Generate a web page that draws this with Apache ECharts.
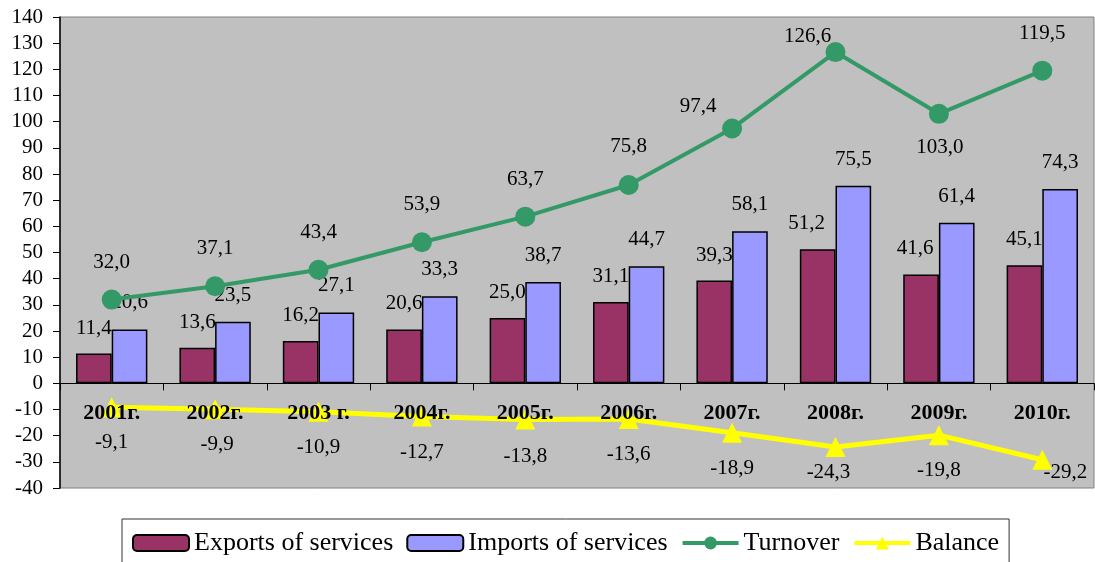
<!DOCTYPE html>
<html>
<head>
<meta charset="utf-8">
<script src="https://cdn.jsdelivr.net/npm/echarts@6/dist/echarts.min.js"></script>
<style>
html, body { margin: 0; padding: 0; background: #fff; }
#chart { width: 1095px; height: 562px; }
</style>
</head>
<body>
<div id="chart"></div>
<script>
var years = ['2001г.', '2002г.', '2003 г.', '2004г.', '2005г.', '2006г.', '2007г.', '2008г.', '2009г.', '2010г.'];
var exportsData = [11.4, 13.6, 16.2, 20.6, 25.0, 31.1, 39.3, 51.2, 41.6, 45.1];
var importsData = [20.6, 23.5, 27.1, 33.3, 38.7, 44.7, 58.1, 75.5, 61.4, 74.3];
var turnoverData = [32.0, 37.1, 43.4, 53.9, 63.7, 75.8, 97.4, 126.6, 103.0, 119.5];
var balanceData = [-9.1, -9.9, -10.9, -12.7, -13.8, -13.6, -18.9, -24.3, -19.8, -29.2];

// label nudges, as placed in the original
var exportsShift = [[0,0],[0,0],[0,0],[0,0],[0,0],[0,0],[0,0],[-11,0],[-6,0],[0,0]];
var turnoverShift = [[0,0],[0,0],[0,0],[0,0],[0,0],[0,-1],[-34,16],[-28,22],[1,71],[0,0]];
var balanceShift = [[0,0],[2,0],[0,0],[0,0],[0,2],[0,0],[0,0],[-7,-10],[0,0],[23,-23]];

var font = 'Liberation Serif';

function fmt(p) {
	return p.value.toFixed(1).replace('.', ',');
}

function withShift(values, shifts) {
	return values.map(function (v, i) {
		return { value: v, label: { offset: shifts[i] } };
	});
}

var valueLabel = {
	show: true,
	color: '#000',
	fontFamily: font,
	fontSize: 21,
	formatter: fmt
};

var option = {
	animation: false,
	textStyle: { fontFamily: font, color: '#000' },
	grid: {
		left: 60, right: 1, top: 17, bottom: 74,
		show: true,
		backgroundColor: '#c0c0c0',
		borderColor: '#808080',
		borderWidth: 1
	},
	legend: {
		left: 122,
		top: 519,
		padding: [11, 10, 30, 10],
		borderColor: '#333',
		borderWidth: 1,
		itemWidth: 56,
		itemHeight: 16,
		itemGap: 13,
		lineStyle: { width: 4 },
		textStyle: { fontFamily: font, fontSize: 26, color: '#000' },
		data: ['Exports of services', 'Imports of services', 'Turnover', 'Balance']
	},
	xAxis: {
		type: 'category',
		data: years,
		z: 10,
		axisLine: { onZero: true, lineStyle: { color: '#000', width: 1 } },
		axisTick: { show: true, length: 7, lineStyle: { color: '#000' } },
		axisLabel: {
			margin: -86,
			color: '#000',
			fontFamily: font,
			fontSize: 22,
			fontWeight: 'bold'
		}
	},
	yAxis: {
		type: 'value',
		min: -40,
		max: 140,
		interval: 10,
		axisLine: { show: true, lineStyle: { color: '#000', width: 1.5 } },
		axisTick: { show: true, length: 7, lineStyle: { color: '#000' } },
		splitLine: { show: false },
		axisLabel: { margin: 17, color: '#000', fontFamily: font, fontSize: 21 }
	},
	series: [
		{
			name: 'Exports of services',
			type: 'bar',
			data: withShift(exportsData, exportsShift),
			barGap: '0%',
			barCategoryGap: '31%',
			itemStyle: { color: '#993366', borderColor: '#000', borderWidth: 1.5 },
			label: Object.assign({ position: 'top', distance: 15 }, valueLabel)
		},
		{
			name: 'Imports of services',
			type: 'bar',
			data: importsData,
			itemStyle: { color: '#9999ff', borderColor: '#000', borderWidth: 1.5 },
			label: Object.assign({ position: 'top', distance: 16 }, valueLabel)
		},
		{
			name: 'Turnover',
			type: 'line',
			data: withShift(turnoverData, turnoverShift),
			symbol: 'circle',
			symbolSize: 20,
			lineStyle: { color: '#339966', width: 4 },
			itemStyle: { color: '#339966' },
			label: Object.assign({ position: 'top', distance: 17 }, valueLabel)
		},
		{
			name: 'Balance',
			type: 'line',
			data: withShift(balanceData, balanceShift),
			symbol: 'triangle',
			symbolSize: 20,
			lineStyle: { color: '#ffff00', width: 5 },
			itemStyle: { color: '#ffff00' },
			label: Object.assign({ position: 'bottom', distance: 15 }, valueLabel)
		}
	]
};

var chart = echarts.init(document.getElementById('chart'));
chart.setOption(option);
</script>
</body>
</html>
